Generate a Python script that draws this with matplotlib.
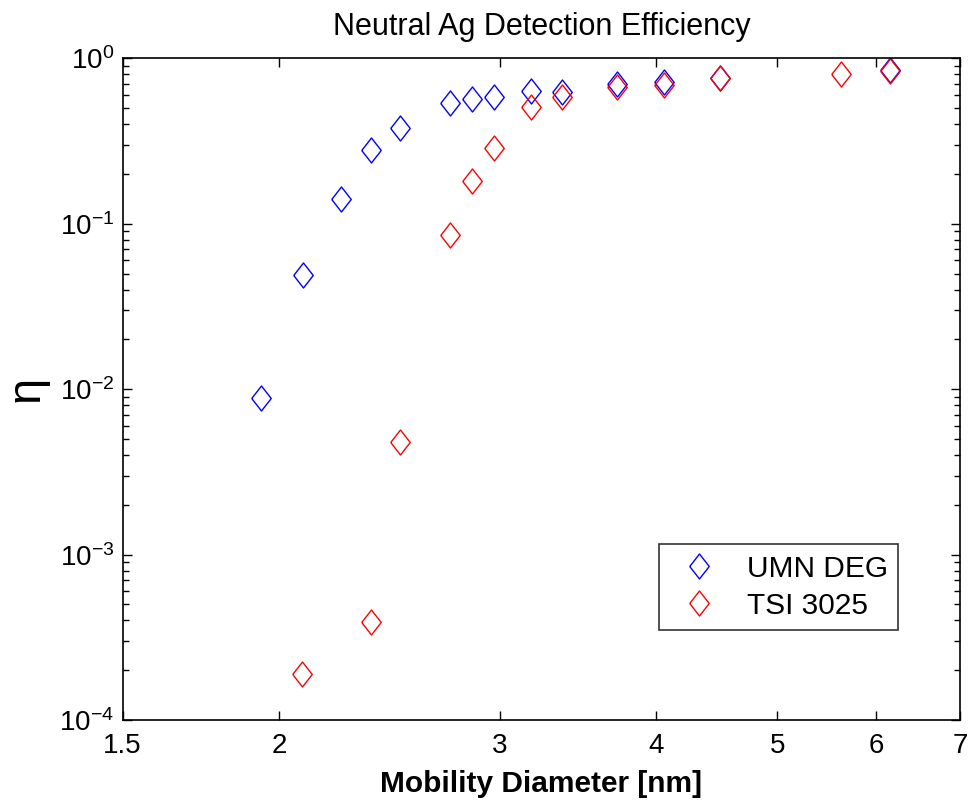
import numpy as np
import matplotlib.pyplot as plt
from matplotlib.ticker import FixedLocator, FixedFormatter, LogLocator, NullLocator

plt.rcParams['font.family'] = ['Liberation Sans', 'DejaVu Sans']
plt.rcParams['mathtext.default'] = 'regular'

# 数据：迁移率直径 (nm) 与检测效率
umn_d = [1.935, 2.088, 2.243, 2.368, 2.499, 2.74, 2.852, 2.969, 3.18, 3.366, 3.72, 4.06, 4.50, 6.15]
umn_eta = [0.0089, 0.049, 0.142, 0.279, 0.377, 0.537, 0.565, 0.581, 0.632, 0.628, 0.696, 0.716, 0.757, 0.85]

tsi_d = [2.087, 2.368, 2.498, 2.74, 2.852, 2.969, 3.18, 3.366, 3.72, 4.06, 4.50, 5.62, 6.15]
tsi_eta = [0.00019, 0.00039, 0.0048, 0.085, 0.181, 0.288, 0.508, 0.581, 0.668, 0.690, 0.757, 0.80, 0.84]

x_ticks = [1.5, 2, 3, 4, 5, 6, 7]
x_ticklabels = ['1.5', '2', '3', '4', '5', '6', '7']

# MATLAB 风格的菱形标记
diamond = [(-0.78, 0), (0, 1), (0.78, 0), (0, -1), (-0.78, 0)]

fig = plt.figure(figsize=(9.69, 8.01), dpi=100)
ax = fig.add_axes([0.1266, 0.101, 0.8644, 0.8263])

ax.plot(umn_d, umn_eta, linestyle='none', marker=diamond, markersize=18,
        markerfacecolor='none', markeredgecolor='b', markeredgewidth=1.0, label='UMN DEG')
ax.plot(tsi_d, tsi_eta, linestyle='none', marker=diamond, markersize=18,
        markerfacecolor='none', markeredgecolor='r', markeredgewidth=1.0, label='TSI 3025')

ax.set_xscale('log')
ax.set_yscale('log')
ax.set_xlim(1.5, 7)
ax.set_ylim(1e-4, 1)

ax.xaxis.set_major_locator(FixedLocator(x_ticks))
ax.xaxis.set_major_formatter(FixedFormatter(x_ticklabels))
ax.xaxis.set_minor_locator(NullLocator())
ax.yaxis.set_major_locator(LogLocator(base=10, numticks=10))
ax.yaxis.set_minor_locator(LogLocator(base=10, subs=np.arange(2, 10), numticks=10))

ax.tick_params(which='both', direction='in', top=True, right=True, width=1.0, color='black')
ax.tick_params(which='major', length=6.5, labelsize=20)
ax.tick_params(axis='x', which='major', pad=9)
ax.tick_params(axis='y', which='major', pad=6)
ax.tick_params(which='minor', length=4.5)
for s in ax.spines.values():
    s.set_linewidth(1.2)

ax.set_title('Neutral Ag Detection Efficiency', fontsize=22, pad=17)
ax.set_xlabel('Mobility Diameter [nm]', fontsize=21.5, fontweight='bold', labelpad=8)
ax.set_ylabel('η', fontsize=34, labelpad=8)

leg = ax.legend(loc='lower right', bbox_to_anchor=(0.926, 0.136), borderaxespad=0,
                fontsize=21.5, frameon=True, fancybox=False, edgecolor='black',
                handletextpad=0.6, borderpad=0.35, labelspacing=0.3, handlelength=2.0)
leg.get_frame().set_linewidth(1.2)

plt.savefig('out.png', dpi=100)
